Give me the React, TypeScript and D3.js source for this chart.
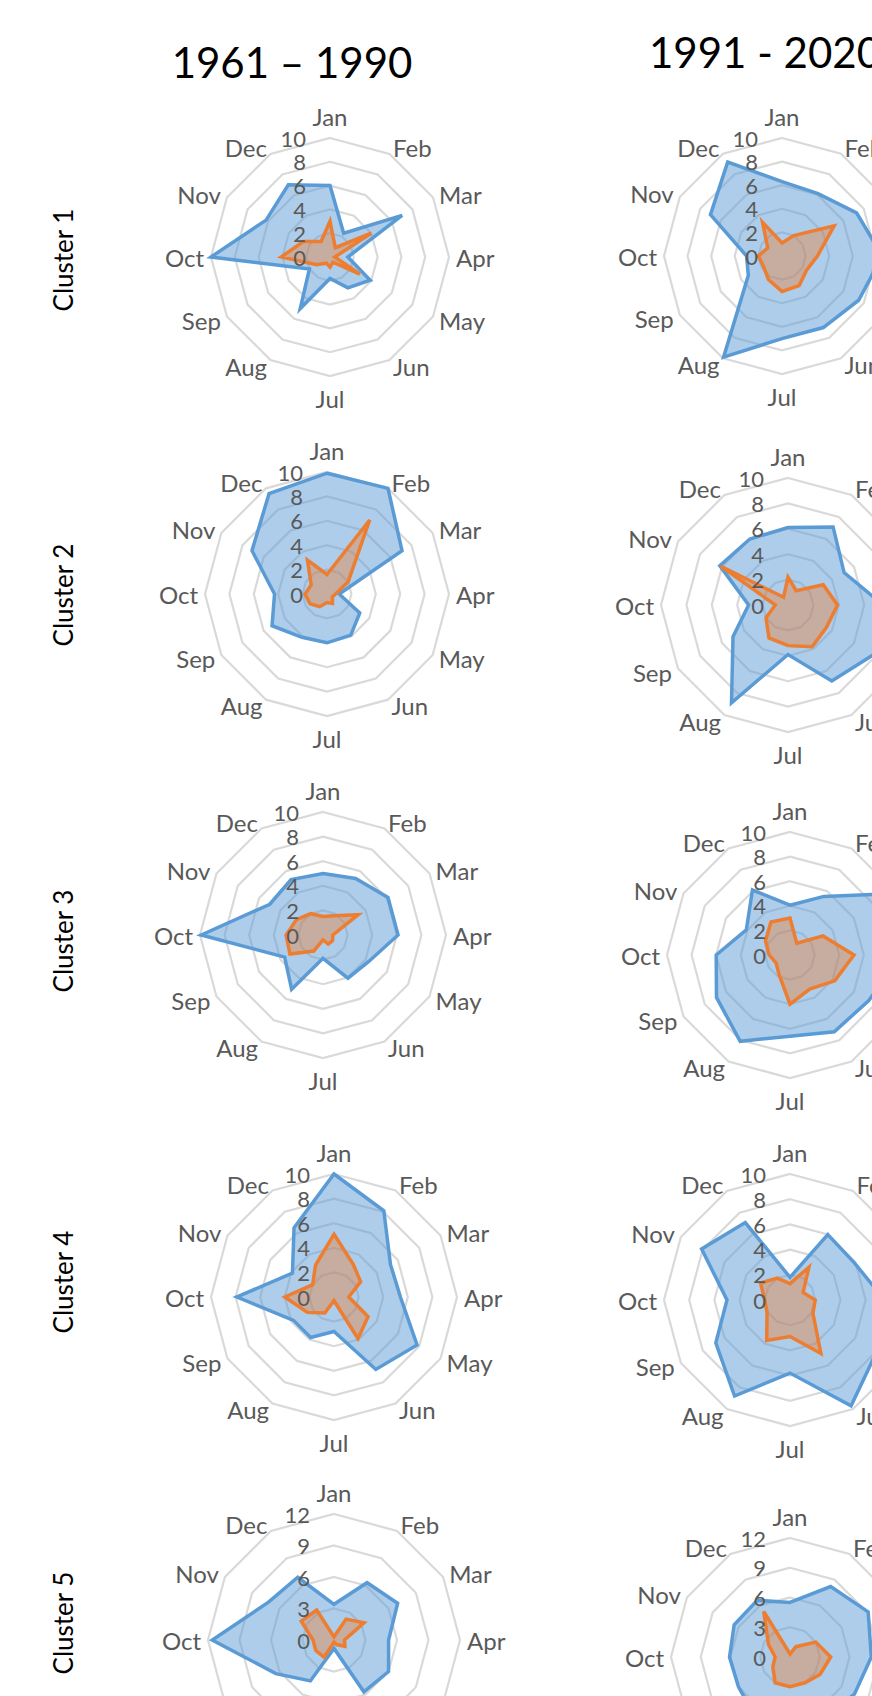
import React from "react";
import * as d3 from "d3";

const months = ["Jan", "Feb", "Mar", "Apr", "May", "Jun", "Jul", "Aug", "Sep", "Oct", "Nov", "Dec"];
const periods = ["1961 – 1990", "1991 - 2020"];
const clusters = ["Cluster 1", "Cluster 2", "Cluster 3", "Cluster 4", "Cluster 5"];
const ticks10 = [0, 2, 4, 6, 8, 10];
const ticks12 = [0, 3, 6, 9, 12];

// blue = series A, orange = series B; "past" = 1961–1990, "recent" = 1991–2020
const c1PastA = [6, 2.3, 7, 1.5, 3.9, 3.0, 1.8, 5.0, 2.0, 10, 6.2, 7.0];
const c1PastB = [3.0, 0.9, 4.0, 0.4, 2.9, 0.5, 0.85, 0.6, 1.3, 4.1, 2.6, 1.5];
const c1RecentA = [6.3, 6.1, 7.3, 8.5, 7.5, 7.0, 7.0, 9.9, 3.3, 3.0, 7.0, 9.2];
const c1RecentB = [1.1, 2.0, 5.1, 3.0, 2.4, 2.9, 3.0, 2.3, 1.8, 2.0, 1.4, 3.3];

const c2PastA = [9.9, 10, 7.1, 1.0, 3.1, 3.9, 4.0, 4.1, 5.2, 4.3, 7.1, 9.5];
const c2PastB = [1.6, 7.0, 2.0, 0.7, 0.5, 0.9, 0.7, 1.2, 1.6, 1.8, 1.5, 3.2];
const c2RecentA = [6.1, 7.1, 5.1, 7.5, 7.8, 6.9, 3.9, 8.9, 5.0, 3.1, 6.2, 6.0];
const c2RecentB = [2.2, 1.3, 3.2, 3.9, 3.5, 3.8, 3.2, 3.0, 2.0, 1.0, 6.1, 0.7];

const c3PastA = [5.0, 5.3, 6.1, 6.1, 4.3, 4.05, 1.9, 5.1, 3.6, 9.9, 5.0, 5.2];
const c3PastB = [1.5, 1.8, 3.3, 0.8, 0.9, 0.85, 0.4, 1.5, 3.1, 3.0, 2.5, 2.0];
const c3RecentA = [4.05, 5.5, 10, 9, 7.4, 7.2, 6.6, 8.1, 6.9, 6.0, 4.1, 6.1];
const c3RecentB = [3.0, 1.1, 3.1, 5.2, 4.2, 3.2, 4.0, 1.8, 1.3, 1.7, 2.3, 3.1];

const c4PastA = [10, 8.1, 5.3, 5.4, 7.8, 6.8, 2.8, 3.8, 3.8, 7.9, 3.9, 6.5];
const c4PastB = [5.1, 3.1, 2.5, 1.2, 3.2, 3.9, 0.3, 1.5, 2.5, 4.0, 2.0, 3.0];
const c4RecentA = [1.8, 6.0, 5.9, 7.5, 8, 9.7, 5.8, 8.8, 6.8, 5.0, 8.1, 7.1];
const c4RecentB = [1.3, 3.0, 1.2, 2.0, 2.1, 4.9, 2.9, 3.7, 2.1, 2.0, 2.7, 2.0];

const c5PastA = [3.4, 6.3, 7.0, 5.2, 6.0, 5.7, 0.8, 4.5, 6.4, 11.6, 7.2, 6.9];
const c5PastB = [0.3, 2.3, 3.3, 1.0, 1.2, 0.5, 0.2, 1.9, 2.0, 2.0, 3.6, 3.3];
const c5RecentA = [5.5, 8.2, 9.1, 8.2, 7.5, 7, 6, 7, 6, 6.1, 6.5, 6.6];
const c5RecentB = [0.3, 1.2, 3.0, 4.1, 3.5, 3, 3, 3, 2, 1.5, 2.5, 5.3];

const seriesA = [
  [c1PastA, c1RecentA],
  [c2PastA, c2RecentA],
  [c3PastA, c3RecentA],
  [c4PastA, c4RecentA],
  [c5PastA, c5RecentA],
];
const seriesB = [
  [c1PastB, c1RecentB],
  [c2PastB, c2RecentB],
  [c3PastB, c3RecentB],
  [c4PastB, c4RecentB],
  [c5PastB, c5RecentB],
];
const tickSets = [ticks10, ticks10, ticks10, ticks10, ticks12];

// layout (positions only)
const panelLayout = [
  [{ cx: 330, cy: 257, r: 119 }, { cx: 782, cy: 256, r: 118 }],
  [{ cx: 327, cy: 594, r: 122 }, { cx: 788, cy: 605, r: 127 }],
  [{ cx: 323, cy: 935, r: 123 }, { cx: 790, cy: 955, r: 123 }],
  [{ cx: 334, cy: 1297, r: 123 }, { cx: 790, cy: 1300, r: 126 }],
  [{ cx: 334, cy: 1640, r: 126 }, { cx: 790, cy: 1657, r: 119 }],
];
const clusterLabelY = [260, 595, 941, 1282, 1623];
const titleLayout = [
  { x: 292, y: 78, anchor: "middle" },
  { x: 649, y: 68, anchor: "start" },
];

const FONT = "Lato, 'Open Sans', 'Noto Sans', sans-serif";
const GRAY = "#595959";
const BLUE = "#5B9BD5";
const ORANGE = "#ED7D31";

function Radar({ cx, cy, r, a, b, ticks }) {
  const max = ticks[ticks.length - 1];
  const rs = d3.scaleLinear().domain([0, max]).range([0, r]);
  const n = months.length;
  const ang = (i) => (i * 2 * Math.PI) / n;
  const line = d3
    .lineRadial()
    .angle((d, i) => ang(i))
    .radius((d) => rs(d))
    .curve(d3.curveLinearClosed);
  const ring = (v) => line(months.map(() => v));
  return (
    <g transform={`translate(${cx},${cy})`}>
      {ticks
        .filter((t) => t > 0)
        .map((t) => (
          <path key={t} d={ring(t)} fill="none" stroke="#D9D9D9" strokeWidth={2.2} />
        ))}
      <path d={line(a)} fill="rgba(91,155,213,0.5)" stroke={BLUE} strokeWidth={3.5} strokeLinejoin="miter" />
      <path d={line(b)} fill="rgba(237,125,49,0.4)" stroke={ORANGE} strokeWidth={3.5} strokeLinejoin="miter" />
      {ticks.map((t) => (
        <text
          key={"t" + t}
          x={-24}
          y={-rs(t)}
          textAnchor="end"
          dominantBaseline="central"
          fontFamily={FONT}
          fontSize={22}
          fill={GRAY}
        >
          {t}
        </text>
      ))}
      {months.map((m, i) => {
        const a0 = ang(i);
        const s = Math.sin(a0);
        const c = Math.cos(a0);
        const rl = r + 7;
        let x = s * rl;
        let y = -c * rl;
        let anchor = "middle";
        if (s > 0.01) anchor = "start";
        else if (s < -0.01) anchor = "end";
        else y += c > 0 ? -15 : 15;
        return (
          <text
            key={m}
            x={x}
            y={y}
            textAnchor={anchor}
            dominantBaseline="central"
            fontFamily={FONT}
            fontSize={24}
            fill={GRAY}
          >
            {m}
          </text>
        );
      })}
    </g>
  );
}

export default function App() {
  return (
    <svg
      width={872}
      height={1696}
      style={{ position: "absolute", left: 0, top: 0, display: "block", background: "#fff" }}
    >
      <rect width={872} height={1696} fill="#fff" />
      {periods.map((p, j) => (
        <text
          key={p}
          x={titleLayout[j].x}
          y={titleLayout[j].y}
          textAnchor={titleLayout[j].anchor}
          fontFamily={FONT}
          fontSize={42}
          fill="#000"
        >
          {p}
        </text>
      ))}
      {clusters.map((c, i) => (
        <text
          key={c}
          transform={`translate(63,${clusterLabelY[i]}) rotate(-90)`}
          textAnchor="middle"
          dominantBaseline="central"
          fontFamily={FONT}
          fontSize={26}
          fill="#000"
        >
          {c}
        </text>
      ))}
      {clusters.map((c, i) =>
        periods.map((p, j) => (
          <Radar
            key={c + p}
            cx={panelLayout[i][j].cx}
            cy={panelLayout[i][j].cy}
            r={panelLayout[i][j].r}
            a={seriesA[i][j]}
            b={seriesB[i][j]}
            ticks={tickSets[i]}
          />
        ))
      )}
    </svg>
  );
}
